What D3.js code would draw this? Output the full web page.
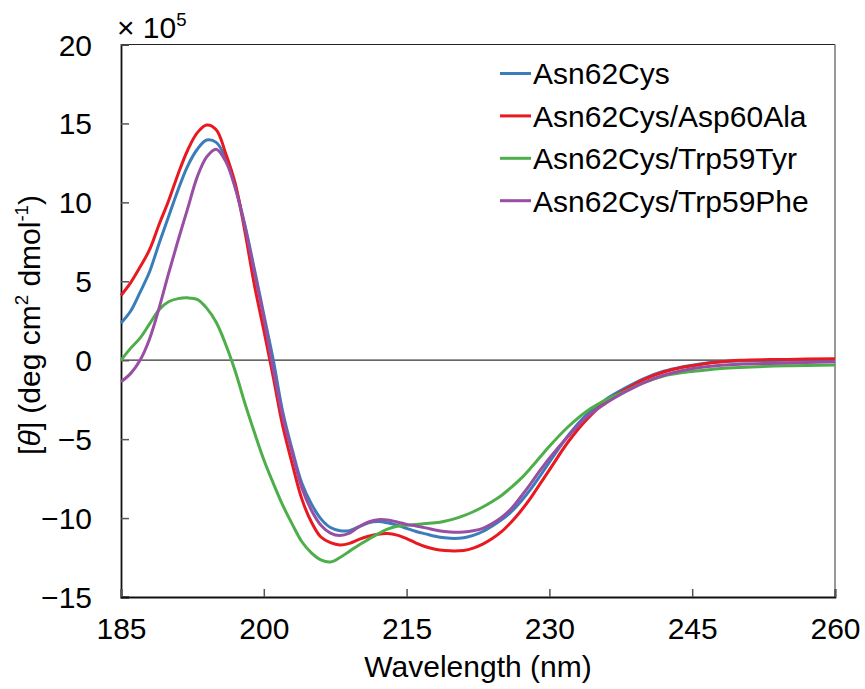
<!DOCTYPE html>
<html><head><meta charset="utf-8">
<script src="https://cdn.jsdelivr.net/npm/d3@7"></script>
<style>body{margin:0;background:#fff}svg{display:block;font-family:Arial,"Liberation Sans",sans-serif}</style>
</head><body><svg id="c" width="865" height="689"></svg>
<script>
const wavelengths = [185,186,187,188,189,190,191,192,193,194,195,196,197,198,199,200,201,202,203,204,205,206,207,208,209,210,211,212,213,214,215,216,217,218,219,220,221,222,223,224,225,226,227,228,229,230,232,234,236,238,240,242,244,246,248,250,255,260];
const asn62Cys = [2.35,3.1,4.3,5.6,7.4,9.1,10.8,12.3,13.35,13.95,13.8,12.8,11.0,8.6,5.8,2.9,0.0,-3.3,-5.7,-7.8,-9.1,-10.05,-10.6,-10.8,-10.8,-10.55,-10.3,-10.22,-10.3,-10.45,-10.65,-10.85,-11.0,-11.15,-11.25,-11.3,-11.25,-11.1,-10.85,-10.5,-10.1,-9.6,-8.95,-8.2,-7.35,-6.45,-4.75,-3.4,-2.45,-1.75,-1.15,-0.7,-0.42,-0.22,-0.1,-0.05,0.0,0.0];
const asp60Ala = [4.1,4.9,5.9,7.0,8.6,10.1,11.8,13.3,14.4,14.9,14.6,13.1,11.2,8.2,4.8,1.9,-1.1,-4.2,-6.6,-8.8,-10.25,-11.2,-11.55,-11.7,-11.6,-11.35,-11.15,-11.02,-10.98,-11.08,-11.3,-11.58,-11.82,-11.97,-12.05,-12.08,-12.05,-11.9,-11.65,-11.3,-10.85,-10.25,-9.55,-8.75,-7.85,-6.95,-5.15,-3.7,-2.6,-1.85,-1.2,-0.75,-0.45,-0.25,-0.1,0.0,0.05,0.1];
const trp59Tyr = [0.0,0.75,1.4,2.3,3.2,3.7,3.9,3.95,3.85,3.3,2.4,1.0,-0.7,-2.7,-4.55,-6.3,-7.8,-9.2,-10.4,-11.5,-12.2,-12.65,-12.78,-12.5,-12.1,-11.7,-11.35,-11.0,-10.7,-10.52,-10.45,-10.4,-10.35,-10.3,-10.2,-10.05,-9.85,-9.6,-9.3,-8.95,-8.55,-8.05,-7.5,-6.85,-6.15,-5.45,-4.2,-3.2,-2.5,-1.95,-1.4,-1.0,-0.78,-0.65,-0.53,-0.46,-0.35,-0.3];
const trp59Phe = [-1.37,-0.85,0.0,1.35,3.3,5.5,7.6,9.6,11.6,12.88,13.37,12.6,10.9,8.5,5.6,2.7,-0.6,-3.6,-5.9,-8.1,-9.5,-10.45,-10.95,-11.1,-10.95,-10.55,-10.25,-10.1,-10.12,-10.25,-10.4,-10.5,-10.62,-10.75,-10.85,-10.9,-10.88,-10.8,-10.65,-10.35,-9.95,-9.4,-8.65,-7.85,-7.0,-6.2,-4.8,-3.55,-2.7,-2.0,-1.4,-0.95,-0.65,-0.45,-0.32,-0.25,-0.18,-0.1];
const seriesNames = ["Asn62Cys","Asn62Cys/Asp60Ala","Asn62Cys/Trp59Tyr","Asn62Cys/Trp59Phe"];
const seriesColors = ["#3A7DBB","#E8191F","#4EAE4A","#984EA3"];
const xTicks = [185,200,215,230,245,260];
const yTicks = [-15,-10,-5,0,5,10,15,20];

const seriesValues = [asn62Cys, asp60Ala, trp59Tyr, trp59Phe];
const svg = d3.select("#c");
const L = 121, R = 835, T = 44.5, B = 597;
const x = d3.scaleLinear().domain([185,260]).range([L,R]);
const y = d3.scaleLinear().domain([-15,20]).range([B,T]);
const FS = 30;

// frame
svg.append("line").attr("x1",L).attr("x2",R).attr("y1",T).attr("y2",T).attr("stroke","#222").attr("stroke-width",1.2);
svg.append("line").attr("x1",R).attr("x2",R).attr("y1",T).attr("y2",B).attr("stroke","#777").attr("stroke-width",1.5);
// zero line
svg.append("line").attr("x1",L).attr("x2",R).attr("y1",y(0)).attr("y2",y(0)).attr("stroke","#333").attr("stroke-width",1.3);

// axes
const yAxis = d3.axisLeft(y).tickValues(yTicks).tickSize(-8).tickPadding(29).tickFormat(d3.format("d"));
const gy = svg.append("g").attr("transform",`translate(${L},0)`).call(yAxis);
const xAxis = d3.axisBottom(x).tickValues(xTicks).tickSize(-8).tickPadding(21).tickFormat(d3.format("d"));
const gx = svg.append("g").attr("transform",`translate(0,${B})`).call(xAxis);
[gx,gy].forEach(g=>{
  g.select(".domain").attr("stroke","#111").attr("stroke-width",1.8);
  g.selectAll(".tick line").attr("stroke","#555").attr("stroke-width",1.5);
  g.selectAll(".tick text").attr("font-size",FS).attr("fill","#000").attr("font-family","Arial, 'Liberation Sans', sans-serif");
});
gy.selectAll(".tick text").attr("dy","0.35em");

// lines
const line = d3.line().x((d,i)=>x(wavelengths[i])).y(d=>y(d)).curve(d3.curveCatmullRom.alpha(0.5));
seriesValues.forEach((vals,k)=>{
  svg.append("path").datum(vals).attr("d",line).attr("fill","none")
    .attr("stroke",seriesColors[k]).attr("stroke-width",3).attr("stroke-linejoin","round");
});

// legend
const lg = svg.append("g");
seriesNames.forEach((n,k)=>{
  const yy = 73.5 + k*42.4;
  lg.append("line").attr("x1",500).attr("x2",531).attr("y1",yy).attr("y2",yy).attr("stroke",seriesColors[k]).attr("stroke-width",3);
  lg.append("text").attr("x",533).attr("y",yy).attr("dy","0.36em").attr("font-size",FS).attr("fill","#000").text(n);
});

// x label
svg.append("text").attr("x",(L+R)/2).attr("y",677).attr("text-anchor","middle").attr("font-size",FS).text("Wavelength (nm)");

// y label
const yl = svg.append("text").attr("transform","translate(40,325) rotate(-90)").attr("text-anchor","middle").attr("font-size",FS);
yl.append("tspan").text("[");
yl.append("tspan").attr("font-style","italic").text("θ");
yl.append("tspan").text("] (deg cm");
yl.append("tspan").attr("font-size",FS*0.62).attr("dy","-0.65em").text("2");
yl.append("tspan").attr("dy","0.4em").text(" dmol");
yl.append("tspan").attr("font-size",FS*0.62).attr("dy","-0.65em").text("-1");
yl.append("tspan").attr("dy","0.4em").text(")");

// multiplier
const mt = svg.append("text").attr("x",117).attr("y",38).attr("font-size",FS);
mt.append("tspan").text("× 10");
mt.append("tspan").attr("font-size",FS*0.62).attr("dy","-0.65em").text("5");
</script></body></html>
